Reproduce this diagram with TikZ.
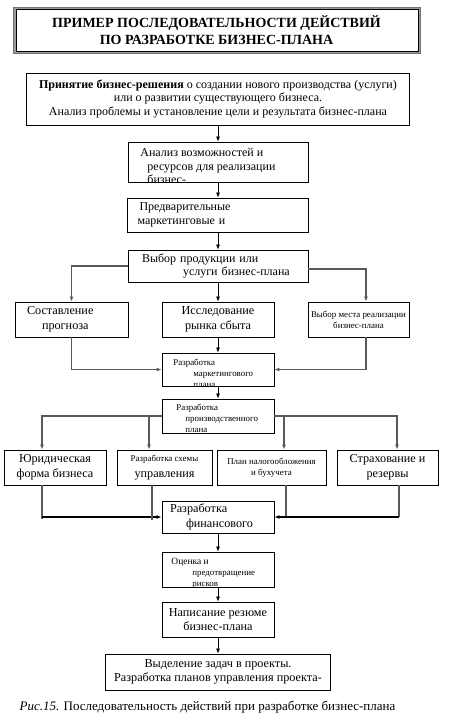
\documentclass[tikz,border=0pt]{standalone}
\usepackage{fontspec}
\setmainfont{Liberation Serif}
\usetikzlibrary{positioning, arrows.meta}

\newcommand{\fsmain}{\fontsize{12}{13.5}\selectfont}
\newcommand{\fsbig}{\fontsize{12.2}{14.5}\selectfont}
\newcommand{\fssmall}{\fontsize{8.9}{11}\selectfont}
\newcommand{\fstitle}{\fontsize{14}{17}\selectfont\bfseries}

\tikzset{
  stepbox/.style={draw, line width=0.8pt, rectangle, inner sep=2pt, font=\fsmain},
  cliptext/.style={anchor=north west, align=left, inner sep=0pt, draw=none,
                   minimum width=0pt, minimum height=0pt},
  arr/.style={-{Latex[length=5pt,width=4pt]}, line width=0.7pt},
  grayline/.style={line width=1.1pt, draw=black!65},
  thickline/.style={line width=1.5pt}
}

\begin{document}
\begin{tikzpicture}[x=1pt, y=-1pt]
    \useasboundingbox (0,0) rectangle (450,722);
    % title frame
    \draw[fill=black!40, draw=black!55] (13,7) rectangle (420,53);
    \draw[fill=white, line width=0.6pt] (16,9) rectangle (418,51);
    \node[align=center, font=\fstitle] (title) at (216.5,30)
        {ПРИМЕР ПОСЛЕДОВАТЕЛЬНОСТИ  ДЕЙСТВИЙ\\ПО РАЗРАБОТКЕ БИЗНЕС-ПЛАНА};

    % main column
    \node[stepbox, minimum width=383pt, minimum height=52pt, align=center] (b1) at (218,99)
        {\textbf{Принятие бизнес-решения} о создании нового производства (услуги)\\
         или о развитии существующего  бизнеса.\\
         Анализ  проблемы и установление  цели и результата бизнес-плана};
    \node[stepbox, minimum width=180pt, minimum height=40pt,
          path picture={\node[cliptext, font=\fsmain]
            at ([xshift=12pt,yshift=-6pt]path picture bounding box.north west)
            {Анализ  возможностей и\\\hspace*{7pt}ресурсов  для реализации\\\hspace*{7pt}бизнес-};}]
        (b2) at (218,162) {};
    \node[stepbox, minimum width=181pt, minimum height=34pt, text width=177pt, align=left] (b3) at (218,215)
        {\hspace*{10pt}Предварительные\\\hspace*{8pt}маркетинговые и};
    \node[stepbox, minimum width=180pt, minimum height=32pt, text width=176pt, align=left] (b4) at (218,266)
        {\hspace*{12pt}Выбор продукции  или\\\hspace*{53pt}услуги бизнес-плана};

    % first row
    \node[stepbox, minimum width=113pt, minimum height=35pt, text width=109pt, align=left, font=\fsbig] (b5) at (71.5,319.5)
        {\hspace*{10pt}Составление\\\hspace*{25pt}прогноза};
    \node[stepbox, minimum width=112pt, minimum height=35pt, align=center, font=\fsbig] (b6) at (218,319.5)
        {Исследование\\рынка сбыта};
    \node[stepbox, minimum width=101pt, minimum height=35pt, align=center, font=\fssmall] (b7) at (358.5,319.5)
        {Выбор места реализации\\бизнес-плана};

    \node[stepbox, minimum width=112pt, minimum height=33pt,
          path picture={\node[cliptext, font=\fssmall]
            at ([xshift=11pt,yshift=-6pt]path picture bounding box.north west)
            {Разработка\\\hspace*{20pt}маркетингового\\\hspace*{20pt}плана};}]
        (b8) at (218,369.5) {};
    \node[stepbox, minimum width=112pt, minimum height=34pt,
          path picture={\node[cliptext, font=\fssmall]
            at ([xshift=14pt,yshift=-5pt]path picture bounding box.north west)
            {Разработка\\\hspace*{9pt}производственного\\\hspace*{9pt}плана};}]
        (b9) at (218,416) {};

    % second row
    \node[stepbox, minimum width=102pt, minimum height=35pt, align=center, font=\fsbig] (b10) at (55,467.5)
        {Юридическая\\форма бизнеса};
    \node[stepbox, minimum width=95pt, minimum height=35pt, align=center, font=\fsbig] (b11) at (164.5,467.5)
        {{\fssmall Разработка  схемы}\\[1pt]управления};
    \node[stepbox, minimum width=109pt, minimum height=35pt, align=center, font=\fssmall] (b12) at (271.5,467.5)
        {План налогообложения\\и бухучета};
    \node[stepbox, minimum width=101pt, minimum height=35pt, align=center, font=\fsbig] (b13) at (387.5,467.5)
        {Страхование  и\\резервы};

    \node[stepbox, minimum width=112pt, minimum height=32pt, text width=108pt, align=left, font=\fsbig] (b14) at (218,517)
        {\hspace*{6pt}Разработка\\\hspace*{22pt}финансового};
    \node[stepbox, minimum width=112pt, minimum height=35pt,
          path picture={\node[cliptext, font=\fssmall]
            at ([xshift=9pt,yshift=-6pt]path picture bounding box.north west)
            {{\fontsize{9.5}{11}\selectfont Оценка  и}\\\hspace*{21pt}предотвращение\\\hspace*{21pt}рисков};}]
        (b15) at (218,569.5) {};
    \node[stepbox, minimum width=112pt, minimum height=35pt, align=center, font=\fsbig] (b16) at (218,619.5)
        {Написание  резюме\\бизнес-плана};
    \node[stepbox, minimum width=225pt, minimum height=36pt, align=center, font=\fsbig] (b17) at (218,672)
        {Выделение  задач в проекты.\\Разработка планов управления  проекта-};

    \node[font=\fontsize{13}{15}\selectfont] (cap) at (207.5,707)
        {\textit{Рис.15.} Последовательность действий при разработке бизнес-плана};

    % connectors
    \draw[arr] (b1) -- (b2);
    \draw[arr] (b2) -- (b3);
    \draw[arr] (b3) -- (b4);
    \draw[arr] (b4) -- (b6);
    \draw[arr, grayline] (b4.west) -| (b5.north);
    \draw[arr, grayline] ([yshift=-3pt]b4.east) -| ([xshift=7.5pt]b7.north);
    \draw[arr] (b6) -- (b8);
    \draw[arr, grayline] (b5.south) |- (b8.west);
    \draw[arr, grayline] ([xshift=7.5pt]b7.south) |- (b8.east);
    \draw[arr] (b8) -- (b9);

    \draw[arr, grayline] (b9.west) -| ([xshift=-13pt]b10.north);
    \draw[arr, grayline] ([xshift=-15.5pt]b11.north |- b9.west) -- ([xshift=-15.5pt]b11.north);
    \draw[arr, grayline] (b9.east) -| ([xshift=9.5pt]b13.north);
    \draw[arr, grayline] ([xshift=12.5pt]b12.north |- b9.east) -- ([xshift=12.5pt]b12.north);

    \draw[grayline] ([xshift=-13pt]b10.south) -- ([xshift=-13pt,yshift=-2pt]b10.south |- b14.west);
    \draw[arr, thickline] ([xshift=-13pt]b10.south |- b14.west) -- (b14.west);
    \draw[grayline] ([xshift=-12.5pt]b11.south) -- ([xshift=-12.5pt,yshift=-3pt]b11.south |- b14.west);
    \draw[grayline] ([xshift=14.5pt]b12.south) -- ([xshift=14.5pt]b12.south |- b14.east);
    \draw[grayline] ([xshift=11.5pt]b13.south) -- ([xshift=11.5pt]b13.south |- b14.east);
    \draw[arr, thickline] ([xshift=11.5pt]b13.south |- b14.east) -- (b14.east);

    \draw[arr] (b14) -- (b15);
    \draw[arr] (b15) -- (b16);
    \draw[arr] (b16) -- (b17);
\end{tikzpicture}
\end{document}
